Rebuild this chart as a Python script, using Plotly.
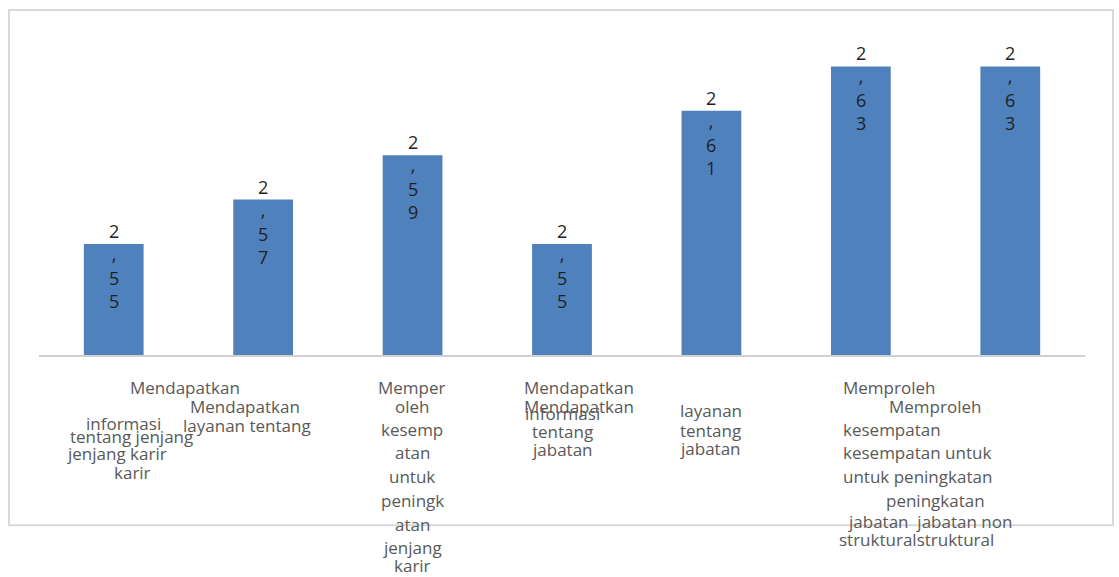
import plotly.graph_objects as go

# Category names (full statements) and mean scores
categories = [
    "Mendapatkan informasi tentang jenjang karir",
    "Mendapatkan layanan tentang jenjang karir",
    "Memperoleh kesempatan untuk peningkatan jenjang karir",
    "Mendapatkan informasi tentang jabatan",
    "Mendapatkan layanan tentang jabatan",
    "Memproleh kesempatan untuk peningkatan jabatan struktural",
    "Memproleh kesempatan untuk peningkatan jabatan non struktural",
]
values = [2.55, 2.57, 2.59, 2.55, 2.61, 2.63, 2.63]

# Category label fragments as laid out under the axis:
# (text, x_px, y_px, horizontal anchor)
label_lines = [
    ("Mendapatkan", 185, 388, "center"),
    ("Mendapatkan", 245, 407, "center"),
    ("informasi", 123, 424, "center"),
    ("layanan tentang", 247, 426, "center"),
    ("tentang jenjang", 131, 437, "center"),
    ("jenjang karir", 117, 454, "center"),
    ("karir", 132, 473, "center"),
    ("Memper", 412, 388, "center"),
    ("oleh", 412, 407, "center"),
    ("kesemp", 412, 430, "center"),
    ("atan", 412, 453, "center"),
    ("untuk", 412, 477, "center"),
    ("peningk", 412, 501, "center"),
    ("atan", 412, 525, "center"),
    ("jenjang", 412, 548, "center"),
    ("karir", 412, 566, "center"),
    ("Mendapatkan", 579, 388, "center"),
    ("Mendapatkan", 579, 407, "center"),
    ("informasi", 562, 414, "center"),
    ("tentang", 562, 432, "center"),
    ("jabatan", 562, 450, "center"),
    ("layanan", 678, 411, "left"),
    ("tentang", 678, 431, "left"),
    ("jabatan", 678, 449, "left"),
    ("Memproleh", 841, 388, "left"),
    ("Memproleh", 935, 407, "center"),
    ("kesempatan", 841, 430, "left"),
    ("kesempatan untuk", 841, 453, "left"),
    ("untuk peningkatan", 841, 477, "left"),
    ("peningkatan", 935, 501, "center"),
    ("jabatan  jabatan non", 846, 522, "left"),
    ("strukturalstruktural", 837, 540, "left"),
]

W, H = 1119, 577
PLOT_L, PLOT_R = 39, 1085
PLOT_T, PLOT_B = 22, 355.5

def px_x(px):
    return (px - PLOT_L) / (PLOT_R - PLOT_L)

def px_y(py):
    return (PLOT_B - py) / (PLOT_B - PLOT_T)

fig = go.Figure()
fig.add_trace(go.Bar(
    x=list(range(len(categories))),
    y=values,
    width=0.4,
    marker=dict(color="#4f81bd", line=dict(width=0)),
    hovertext=categories,
    hoverinfo="text+y",
))

annotations = []
# Value labels, decimal comma, one character per line
for i, v in enumerate(values):
    s = f"{v:.2f}".replace(".", ",")
    annotations.append(dict(
        x=i, y=v, xref="x", yref="y",
        text="<br>".join(s),
        showarrow=False, yanchor="top", xanchor="center",
        yshift=27, align="center",
        font=dict(family="Open Sans", size=18, color="#1f1f1f"),
    ))

for text, x, y, anchor in label_lines:
    annotations.append(dict(
        x=px_x(x), y=px_y(y), xref="paper", yref="paper",
        text=text, showarrow=False,
        xanchor=anchor, yanchor="middle",
        font=dict(family="Open Sans", size=17, color="#595959"),
    ))

fig.update_layout(
    width=W, height=H,
    margin=dict(l=PLOT_L, r=W - PLOT_R, t=PLOT_T, b=H - PLOT_B),
    paper_bgcolor="white", plot_bgcolor="white",
    showlegend=False,
    bargap=0.6,
    xaxis=dict(
        range=[-0.5, len(categories) - 0.5],
        showticklabels=False, ticks="",
        showline=True, linecolor="#d0d0d0", linewidth=2,
        showgrid=False, zeroline=False, fixedrange=True,
    ),
    yaxis=dict(
        range=[2.50, 2.65], visible=False, fixedrange=True,
    ),
    annotations=annotations,
    shapes=[dict(
        type="rect", xref="paper", yref="paper",
        x0=px_x(9), x1=px_x(1113), y0=px_y(526), y1=px_y(10),
        line=dict(color="#d9d9d9", width=2), fillcolor="rgba(0,0,0,0)",
        layer="below",
    )],
)

fig.write_html("out.html")
